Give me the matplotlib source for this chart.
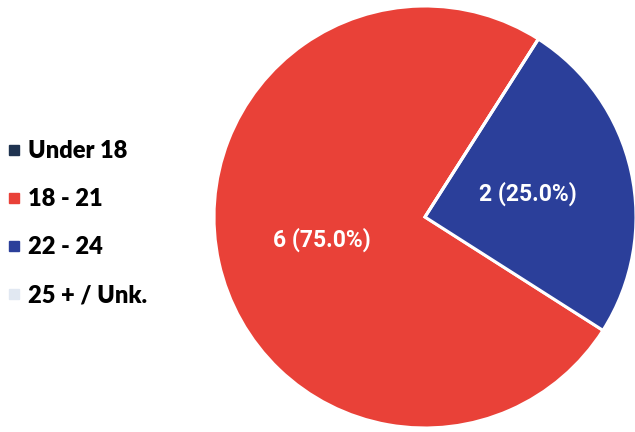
import matplotlib
matplotlib.use("Agg")
import matplotlib.pyplot as plt
from matplotlib.lines import Line2D

categories = ["Under 18", "18 - 21", "22 - 24", "25 + / Unk."]
values = [0, 6, 2, 0]
colors = ["#1f3350", "#e94138", "#2b3f9a", "#e1e8f2"]

W, H = 635, 432
fig = plt.figure(figsize=(W / 100, H / 100), dpi=100)
ax = fig.add_axes([0, 0, 1, 1])

total = sum(values)

def fmt(p):
    n = round(p * total / 100)
    return f"{n} ({p:.1f}%)" if n > 0 else ""

wedges, texts, autotexts = ax.pie(
    values, colors=colors, startangle=57.5, counterclock=True,
    autopct=fmt, pctdistance=0.5, center=(425, H - 217), radius=211,
    wedgeprops=dict(edgecolor="white", linewidth=2.2),
    textprops=dict(color="white", fontsize=16.5, fontweight="bold", family="Roboto"),
)
ax.set_xlim(0, W)
ax.set_ylim(0, H)
ax.set_aspect("equal")
ax.axis("off")

handles = [Line2D([], [], marker="s", linestyle="none", markersize=6.5,
                  markerfacecolor=c, markeredgecolor=c) for c in colors]
leg = fig.legend(handles, categories, loc="upper left",
                 bbox_to_anchor=(0.0, 1 - 133 / H), frameon=False,
                 prop=dict(family="Lato", weight="heavy", size=17),
                 handlelength=0.6, handletextpad=0.3, labelspacing=1.1,
                 borderaxespad=0, borderpad=0.3)

fig.savefig("out.png", dpi=100)
